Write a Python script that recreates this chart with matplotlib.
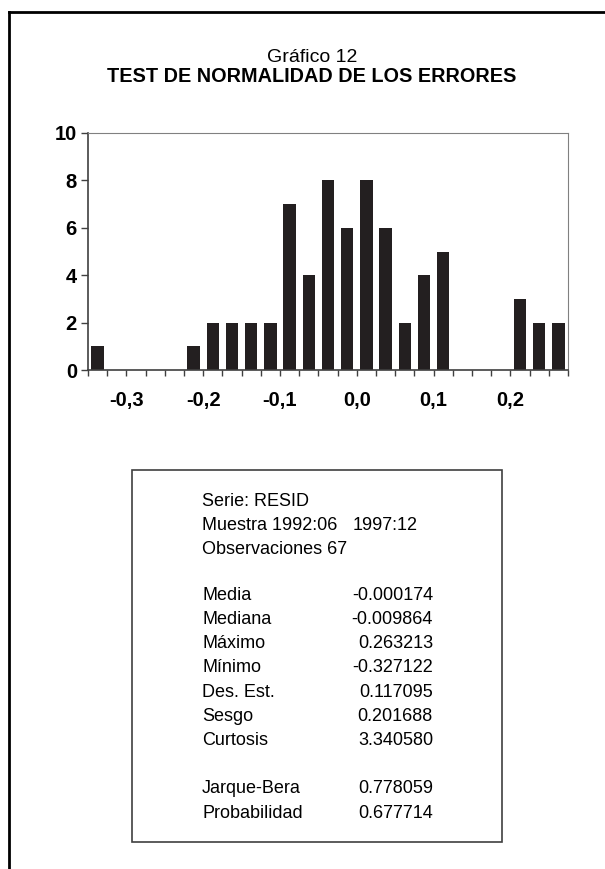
import numpy as np
import matplotlib
matplotlib.use("Agg")
import matplotlib.pyplot as plt
from matplotlib.lines import Line2D
from matplotlib.patches import Rectangle
from matplotlib.ticker import FuncFormatter, MultipleLocator

plt.rcParams['font.family'] = ['Liberation Sans', 'DejaVu Sans']

# Histogram of residuals (bins of 0.025 starting at -0.35)
bin_start = -0.35
bin_width = 0.025
counts = [1, 0, 0, 0, 0, 1, 2, 2, 2, 2, 7, 4, 8, 6, 8, 6, 2, 4, 5, 0, 0, 0, 3, 2, 2]
xtick_vals = [-0.3, -0.2, -0.1, 0.0, 0.1, 0.2]

# Summary statistics box
header_lines = ["Serie: RESID", "Muestra 1992:06", "Observaciones 67"]
sample_end = "1997:12"
stat_names = ["Media", "Mediana", "Máximo", "Mínimo", "Des. Est.", "Sesgo", "Curtosis"]
stat_values = ["-0.000174", "-0.009864", "0.263213", "-0.327122", "0.117095", "0.201688", "3.340580"]
test_names = ["Jarque-Bera", "Probabilidad"]
test_values = ["0.778059", "0.677714"]

W, H = 605, 869
fig = plt.figure(figsize=(W / 100, H / 100), dpi=100)
fig.patch.set_facecolor('white')

def fx(px):
    return px / W

def fy(py):
    return 1 - py / H

# outer frame (left and top only visible)
fig.add_artist(Line2D([fx(9), fx(9)], [fy(12), 0], color='black', lw=2, transform=fig.transFigure))
fig.add_artist(Line2D([fx(9), 1], [fy(12), fy(12)], color='black', lw=2, transform=fig.transFigure))

# titles
fig.text(fx(312), fy(57), "Gráfico 12", ha='center', va='center', fontsize=14)
fig.text(fx(312), fy(77), "TEST DE NORMALIDAD DE LOS ERRORES", ha='center', va='center',
         fontsize=14.3, fontweight='bold')

# histogram
ax = fig.add_axes([fx(88), fy(370), fx(568) - fx(88), fy(133) - fy(370)])
centers = [bin_start + bin_width * (i + 0.5) for i in range(len(counts))]
ax.bar(centers, counts, width=bin_width * 0.64, color='#231f20', edgecolor='none')
ax.set_xlim(bin_start, bin_start + bin_width * len(counts))
ax.set_ylim(0, 10)

ax.set_yticks([0, 2, 4, 6, 8, 10])
ax.set_xticks(xtick_vals)
ax.xaxis.set_minor_locator(MultipleLocator(bin_width))
ax.xaxis.set_major_formatter(FuncFormatter(lambda v, p: f"{v:.1f}".replace('.', ',').replace('-0,0', '0,0')))
ax.tick_params(axis='y', direction='out', length=5, width=1, color='#404040', labelsize=14.5, pad=3)
ax.tick_params(axis='x', which='both', direction='out', length=4, width=1, color='#404040',
               labelsize=14.5, pad=11)
for lab in ax.get_xticklabels() + ax.get_yticklabels():
    lab.set_fontweight('bold')
for side in ['left', 'bottom']:
    ax.spines[side].set_color('#404040')
    ax.spines[side].set_linewidth(1.2)
for side in ['top', 'right']:
    ax.spines[side].set_color('#808080')
    ax.spines[side].set_linewidth(0.8)

# statistics box
fig.add_artist(Rectangle((fx(132), fy(842)), fx(502) - fx(132), fy(470) - fy(842),
                         transform=fig.transFigure, fill=False, edgecolor='#404040', lw=1.2))
lx, rx = fx(202), fx(433)
fs = 13
line_h = 24.2
y = 501
for s in header_lines:
    fig.text(lx, fy(y), s, ha='left', va='center', fontsize=fs)
    if s.startswith("Muestra"):
        fig.text(fx(418), fy(y), sample_end, ha='right', va='center', fontsize=fs)
    y += line_h
y += line_h * 0.9
for name, val in zip(stat_names, stat_values):
    fig.text(lx, fy(y), name, ha='left', va='center', fontsize=fs)
    fig.text(rx, fy(y), val, ha='right', va='center', fontsize=fs)
    y += line_h
y += line_h
for name, val in zip(test_names, test_values):
    fig.text(lx, fy(y), name, ha='left', va='center', fontsize=fs)
    fig.text(rx, fy(y), val, ha='right', va='center', fontsize=fs)
    y += line_h

fig.savefig("out.png", dpi=100)
